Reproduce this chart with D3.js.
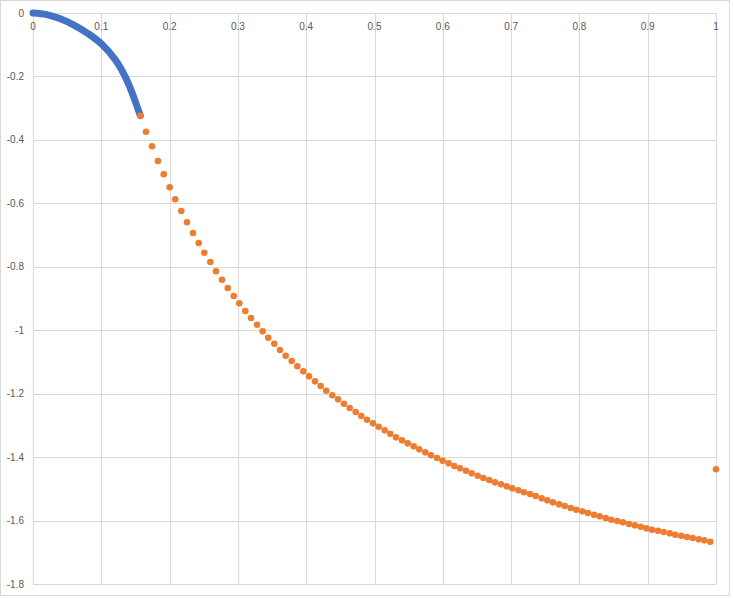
<!DOCTYPE html>
<html>
<head>
<meta charset="utf-8">
<script src="https://cdn.jsdelivr.net/npm/d3@7"></script>
<style>
  body { margin: 0; background: #fff; }
  svg { display: block; }
  .tick-label { font-family: "Liberation Sans", Arial, sans-serif; font-size: 10px; fill: #595959; }
</style>
</head>
<body>
<svg id="chart" width="733" height="599"></svg>
<script>
// blue series - dense markers, read along the centre of the band
var blueX = [0, 0.02, 0.04, 0.06, 0.08, 0.10, 0.12, 0.13, 0.14, 0.15, 0.1571];
var blueY = [0, -0.005, -0.018, -0.038, -0.064, -0.097, -0.146, -0.180, -0.224, -0.280, -0.3238];

// orange series - individual dots
var orangeX = [0.1571, 0.1654, 0.1742, 0.1830, 0.1914, 0.2001, 0.2083, 0.2171, 0.2255, 0.2343,
  0.2426, 0.2508, 0.2596, 0.2679, 0.2767, 0.2851, 0.2939, 0.3021, 0.3108, 0.3192,
  0.3280, 0.3363, 0.3445, 0.3533, 0.3616, 0.3700, 0.3788, 0.3870, 0.3958, 0.4041,
  0.4129, 0.4212, 0.4294, 0.4382, 0.4466, 0.4553, 0.4637, 0.4725, 0.4807, 0.4890,
  0.4978, 0.5061, 0.5149, 0.5231, 0.5315, 0.5403, 0.5486, 0.5574, 0.5656, 0.5744,
  0.5827, 0.5915, 0.5998, 0.6086, 0.6168, 0.6252, 0.6340, 0.6423, 0.6511, 0.6593,
  0.6681, 0.6764, 0.6852, 0.6936, 0.7018, 0.7106, 0.7189, 0.7277, 0.7360, 0.7448,
  0.7530, 0.7613, 0.7701, 0.7785, 0.7873, 0.7955, 0.8043, 0.8126, 0.8214, 0.8297,
  0.8385, 0.8467, 0.8555, 0.8638, 0.8726, 0.8810, 0.8898, 0.8980, 0.9063, 0.9151,
  0.9234, 0.9322, 0.9404, 0.9492, 0.9575, 0.9659, 0.9747, 0.9829, 0.9917, 1.0];
var orangeY = [-0.3238, -0.3742, -0.4202, -0.4666, -0.5085, -0.5495, -0.5873, -0.6242, -0.6598, -0.6936,
  -0.7251, -0.7557, -0.7850, -0.8143, -0.8408, -0.8670, -0.8922, -0.9152, -0.9395, -0.9615,
  -0.9827, -1.0035, -1.0236, -1.0426, -1.0624, -1.0804, -1.0971, -1.1138, -1.1296, -1.1454,
  -1.1611, -1.1759, -1.1907, -1.2052, -1.2179, -1.2317, -1.2453, -1.2579, -1.2705, -1.2822,
  -1.2935, -1.3042, -1.3156, -1.3263, -1.3377, -1.3471, -1.3566, -1.3660, -1.3755, -1.3850,
  -1.3944, -1.4029, -1.4114, -1.4196, -1.4281, -1.4354, -1.4430, -1.4512, -1.4587, -1.4660,
  -1.4723, -1.4795, -1.4858, -1.4921, -1.4984, -1.5047, -1.5110, -1.5164, -1.5227, -1.5300,
  -1.5363, -1.5426, -1.5489, -1.5542, -1.5605, -1.5659, -1.5710, -1.5763, -1.5816, -1.5867,
  -1.5921, -1.5974, -1.6015, -1.6056, -1.6110, -1.6151, -1.6195, -1.6245, -1.6289, -1.6321,
  -1.6362, -1.6403, -1.6447, -1.6479, -1.6520, -1.6551, -1.6592, -1.6624, -1.6668, -1.4385];

var xTicks = [0, 0.1, 0.2, 0.3, 0.4, 0.5, 0.6, 0.7, 0.8, 0.9, 1];
var yTicks = [0, -0.2, -0.4, -0.6, -0.8, -1, -1.2, -1.4, -1.6, -1.8];

var margin = {top: 13, left: 33, right: 17, bottom: 15};
var W = 733, H = 599;

var svg = d3.select("#chart");

// outer chart border
svg.append("rect")
  .attr("x", 0.5).attr("y", 0.5)
  .attr("width", 729).attr("height", 595)
  .attr("fill", "#fff")
  .attr("stroke", "#d9d9d9");

var x = d3.scaleLinear().domain([0, 1]).range([margin.left, W - margin.right]);
var y = d3.scaleLinear().domain([0, -1.8]).range([margin.top, H - margin.bottom]);

// gridlines
var grid = svg.append("g").attr("class", "grid");
grid.selectAll(".vline").data(xTicks).enter().append("line")
  .attr("x1", d => Math.round(x(d)) + 0.5).attr("x2", d => Math.round(x(d)) + 0.5)
  .attr("y1", y(0)).attr("y2", y(-1.8))
  .attr("stroke", "#d9d9d9").attr("stroke-width", 1);
grid.selectAll(".hline").data(yTicks).enter().append("line")
  .attr("y1", d => Math.round(y(d)) + 0.5).attr("y2", d => Math.round(y(d)) + 0.5)
  .attr("x1", x(0)).attr("x2", x(1))
  .attr("stroke", "#d9d9d9").attr("stroke-width", 1);

// x labels sit just under the y=0 line
svg.append("g").selectAll("text").data(xTicks).enter().append("text")
  .attr("class", "tick-label")
  .attr("x", d => x(d))
  .attr("y", y(0) + 13)
  .attr("text-anchor", "middle")
  .attr("dominant-baseline", "central")
  .text(d => d);

// y labels on the left
svg.append("g").selectAll("text").data(yTicks).enter().append("text")
  .attr("class", "tick-label")
  .attr("x", x(0) - 9)
  .attr("y", d => y(d))
  .attr("text-anchor", "end")
  .attr("dominant-baseline", "central")
  .text(d => d);

// blue series: dense markers drawn as a thick round-capped path
var blue = blueX.map((d, i) => [d, blueY[i]]);
var line = d3.line()
  .x(d => x(d[0]))
  .y(d => y(d[1]))
  .curve(d3.curveMonotoneX);
svg.append("path")
  .datum(blue)
  .attr("d", line)
  .attr("fill", "none")
  .attr("stroke", "#4472c4")
  .attr("stroke-width", 7)
  .attr("stroke-linecap", "round")
  .attr("stroke-linejoin", "round");

// orange dots
var orange = orangeX.map((d, i) => [d, orangeY[i]]);
svg.append("g").selectAll("circle").data(orange).enter().append("circle")
  .attr("cx", d => x(d[0]))
  .attr("cy", d => y(d[1]))
  .attr("r", 3.3)
  .attr("fill", "#ed7d31");
</script>
</body>
</html>
